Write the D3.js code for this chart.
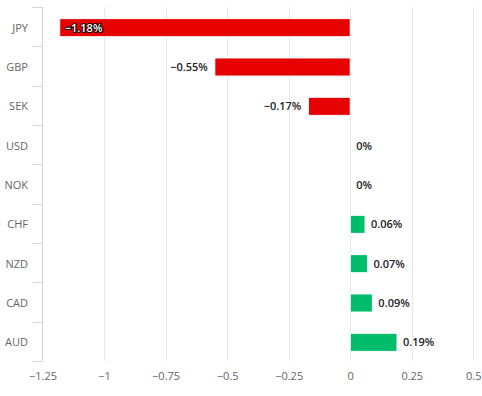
<!DOCTYPE html>
<html>
<head>
<meta charset="utf-8">
<script src="https://cdn.jsdelivr.net/npm/d3@7"></script>
<style>
  body { margin: 0; background: #fff; }
  text { font-family: "Open Sans", sans-serif; }
</style>
</head>
<body>
<script>
const currencies = ["JPY", "GBP", "SEK", "USD", "NOK", "CHF", "NZD", "CAD", "AUD"];
const changes = [-1.18, -0.55, -0.17, 0, 0, 0.06, 0.07, 0.09, 0.19];
const xTicks = [-1.25, -1, -0.75, -0.5, -0.25, 0, 0.25, 0.5];

const width = 482;
const height = 396;
const plotLeft = 42.5, plotRight = 473.3, plotTop = 7, plotBottom = 361;

const fmtTick = d3.format("");
const fmtLabel = d => (d === 0 ? "0" : d3.format(".2f")(d)) + "%";

const x = d3.scaleLinear().domain([-1.25, 0.5]).range([plotLeft, plotRight]);
const y = d3.scaleBand().domain(currencies).range([plotTop, plotBottom])
  .paddingInner(0.54).paddingOuter(0.27);
const yCat = d3.scaleBand().domain(currencies).range([plotTop, plotBottom]);

const svg = d3.select("body").append("svg")
  .attr("width", width)
  .attr("height", height);

// vertical grid
svg.append("g")
  .selectAll("line")
  .data(xTicks.slice(1))
  .enter().append("line")
  .attr("x1", d => Math.round(x(d)) + 0.5)
  .attr("x2", d => Math.round(x(d)) + 0.5)
  .attr("y1", plotTop)
  .attr("y2", plotBottom)
  .attr("stroke", "#e6e6e6");

// x axis labels
const xAxis = d3.axisBottom(x).tickValues(xTicks).tickSize(0).tickPadding(0).tickFormat(fmtTick);
const gx = svg.append("g")
  .attr("transform", `translate(0, ${plotBottom})`)
  .call(xAxis);
gx.select(".domain").remove();
gx.selectAll("text")
  .attr("y", 19)
  .attr("dy", 0)
  .attr("fill", "#666")
  .style("font-size", "11px");

// category axis
const yAxis = d3.axisLeft(yCat).tickSize(0).tickPadding(0);
const gy = svg.append("g")
  .attr("transform", `translate(${plotLeft}, 0)`)
  .call(yAxis);
gy.select(".domain").remove();
gy.selectAll("text")
  .attr("x", -14.5)
  .attr("dy", "0.35em")
  .attr("transform", "translate(0,1)")
  .attr("fill", "#666")
  .style("font-size", "11px");

const boundaries = currencies.map(c => yCat(c)).concat([plotBottom]);
svg.append("g")
  .selectAll("line")
  .data(boundaries)
  .enter().append("line")
  .attr("x1", plotLeft - 10)
  .attr("x2", plotLeft)
  .attr("y1", d => Math.round(d) + 0.5)
  .attr("y2", d => Math.round(d) + 0.5)
  .attr("stroke", "#ccd6eb");

svg.append("line")
  .attr("x1", plotLeft)
  .attr("x2", plotLeft)
  .attr("y1", plotTop)
  .attr("y2", plotBottom)
  .attr("stroke", "#ccd6eb");

// bars
const data = currencies.map((c, i) => ({ cur: c, v: changes[i] }));

svg.append("g")
  .selectAll("rect")
  .data(data)
  .enter().append("rect")
  .attr("x", d => Math.min(x(d.v), x(0)))
  .attr("y", d => y(d.cur) + 1)
  .attr("width", d => Math.abs(x(d.v) - x(0)))
  .attr("height", y.bandwidth())
  .attr("fill", d => d.v < 0 ? "#e60000" : "#00bc6b")
  .attr("stroke", "#fff")
  .attr("stroke-width", 1);

// data labels
svg.append("g")
  .selectAll("text")
  .data(data)
  .enter().append("text")
  .attr("x", d => {
    if (d.v <= -1) return x(d.v) + 5;
    if (d.v < 0) return x(d.v) - 7;
    return x(d.v) + 6;
  })
  .attr("y", d => yCat(d.cur) + yCat.bandwidth() / 2 + 1)
  .attr("dy", "0.35em")
  .attr("text-anchor", d => (d.v < 0 && d.v > -1) ? "end" : "start")
  .attr("fill", d => d.v <= -1 ? "#fff" : "#222")
  .attr("stroke", d => d.v <= -1 ? "#000" : "#fff")
  .attr("stroke-width", 2)
  .attr("stroke-linejoin", "round")
  .attr("paint-order", "stroke")
  .style("font-size", "11px")
  .style("font-weight", "600")
  .text(d => fmtLabel(d.v).replace("-", "\u2212"));
</script>
</body>
</html>
